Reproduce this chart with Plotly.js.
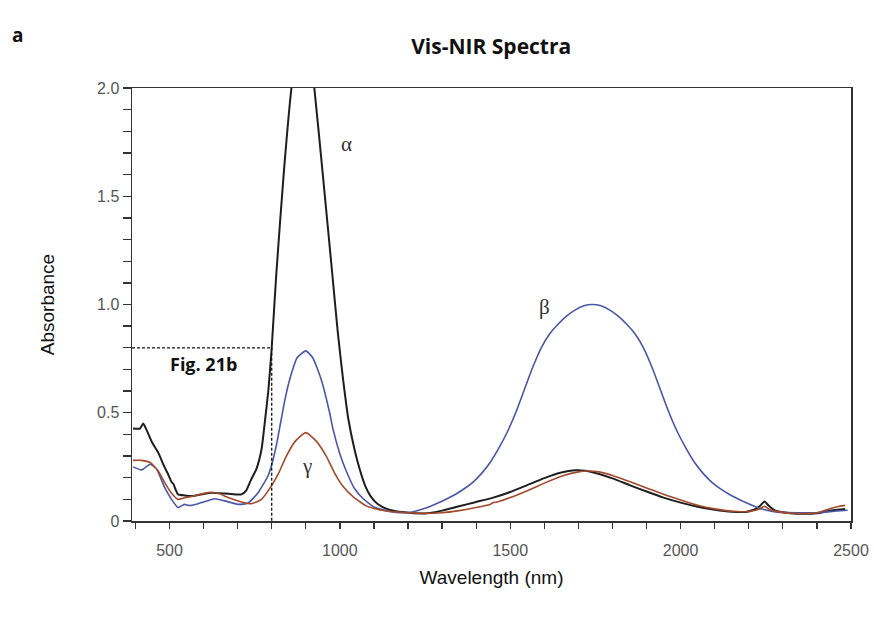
<!DOCTYPE html>
<html>
<head>
<meta charset="utf-8">
<script src="https://cdn.plot.ly/plotly-3.0.1.min.js"></script>
<style>html,body{margin:0;padding:0;background:#fff;}#chart{width:874px;height:619px;}</style>
</head>
<body>
<div id="chart"></div>
<script>
// Sample alpha (black)
const alphaWl = [393,413,423,433,450,467,485,496,506,512,518,525,545,565,600,623,662,690,711,725,740,755,770,780,790,800,813,835,858,875,892,910,925,950,979,994,1009,1025,1043,1058,1075,1090,1110,1140,1190,1250,1300,1350,1400,1450,1500,1550,1600,1650,1690,1720,1750,1800,1850,1900,1950,2000,2050,2100,2150,2190,2215,2232,2246,2258,2275,2300,2340,2400,2430,2460,2483];
const alphaAbs = [0.427,0.427,0.45,0.42,0.36,0.316,0.25,0.216,0.18,0.17,0.145,0.123,0.118,0.115,0.125,0.131,0.127,0.123,0.123,0.14,0.193,0.24,0.33,0.46,0.60,0.80,1.13,1.6,2.0,2.18,2.24,2.18,2.0,1.6,1.12,0.87,0.66,0.47,0.33,0.24,0.16,0.115,0.08,0.055,0.04,0.035,0.048,0.068,0.088,0.108,0.134,0.166,0.198,0.224,0.234,0.232,0.222,0.197,0.166,0.136,0.108,0.085,0.066,0.052,0.043,0.042,0.052,0.068,0.09,0.072,0.05,0.04,0.034,0.036,0.045,0.052,0.055];

// Sample beta (blue)
const betaWl = [393,418,443,462,486,506,525,535,545,555,565,594,633,662,701,730,760,789,800,815,828,840,853,875,900,920,945,970,979,1000,1019,1043,1067,1100,1136,1165,
  1191,1216,1241,1266,1291,1316,1341,1366,1391,1416,1441,1466,1491,1516,1541,1566,1591,1616,1641,1666,1691,1716,1741,
  1766,1791,1816,1841,1866,1891,1916,1941,1966,1991,2016,2041,2066,2091,2116,2141,2166,2191,2216,2241,2266,2291,2345,2400,2450,2490];
const betaAbs = [0.25,0.236,0.262,0.24,0.154,0.10,0.062,0.07,0.077,0.072,0.072,0.085,0.103,0.093,0.077,0.082,0.131,0.208,0.26,0.36,0.47,0.57,0.655,0.755,0.786,0.755,0.655,0.50,0.43,0.31,0.23,0.15,0.105,0.065,0.048,0.04,
  0.038,0.043,0.054,0.068,0.085,0.104,0.125,0.15,0.18,0.22,0.27,0.335,0.41,0.50,0.605,0.71,0.80,0.865,0.91,0.947,0.975,0.994,1.0,
  0.994,0.975,0.947,0.91,0.865,0.80,0.71,0.605,0.50,0.41,0.335,0.27,0.22,0.18,0.15,0.125,0.104,0.085,0.068,0.054,0.045,0.04,0.038,0.038,0.045,0.05];

// Sample gamma (brown)
const gammaWl = [393,418,443,467,486,506,525,545,565,613,643,672,711,740,770,799,820,843,870,900,930,960,985,1009,1040,1077,1100,1136,1200,1250,1300,1350,1400,1440,1450,1462,1500,1550,1600,1650,1700,1725,1760,1800,1850,1900,1950,2000,2050,2100,2150,2200,2230,2246,2262,2300,2340,2400,2440,2460,2483];
const gammaAbs = [0.28,0.28,0.27,0.231,0.177,0.128,0.10,0.108,0.113,0.131,0.128,0.108,0.088,0.080,0.10,0.162,0.22,0.30,0.37,0.408,0.37,0.30,0.22,0.16,0.11,0.07,0.058,0.046,0.038,0.035,0.038,0.048,0.062,0.076,0.085,0.088,0.108,0.14,0.175,0.207,0.227,0.231,0.227,0.21,0.182,0.153,0.123,0.097,0.073,0.056,0.045,0.044,0.054,0.068,0.052,0.04,0.034,0.038,0.058,0.066,0.072];

const xTickVals = [500,1000,1500,2000,2500];
const xTickText = ['500','1000','1500','2000','2500'];
const yTickVals = [0,0.5,1.0,1.5,2.0];
const yTickText = ['0','0.5','1.0','1.5','2.0'];

const seriesLabels = ['α','β','γ'];
const labelX = [1019,1600,903];
const labelY = [1.74,0.99,0.254];

const figX = 800, figY = 0.8;

const traces = [
  {x: alphaWl, y: alphaAbs, type:'scatter', mode:'lines', name:'α', line:{color:'#1e1e1e', width:2, shape:'spline', smoothing:0.5}},
  {x: betaWl, y: betaAbs, type:'scatter', mode:'lines', name:'β', line:{color:'#4a56a6', width:1.6, shape:'spline', smoothing:0.5}},
  {x: gammaWl, y: gammaAbs, type:'scatter', mode:'lines', name:'γ', line:{color:'#a24a2c', width:1.6, shape:'spline', smoothing:0.5}}
];

const annotations = seriesLabels.map((t,i)=>({
  x: labelX[i], y: labelY[i], xref:'x', yref:'y', text: t, showarrow:false,
  font:{family:'Liberation Serif, serif', size:21, color:'#333'}
}));
annotations.push({x:0.0, y:1.0, xref:'paper', yref:'paper', xanchor:'left', yanchor:'top', xshift:-122, yshift:68,
  text:'<b>a</b>', showarrow:false, font:{family:'Open Sans, sans-serif', size:19, color:'#111'}});
annotations.push({x:600, y:0.725, xref:'x', yref:'y', text:'<b>Fig. 21b</b>', showarrow:false,
  font:{family:'Open Sans, sans-serif', size:18, color:'#111'}});

const layout = {
  width: 874, height: 619,
  margin: {l:132, r:23, t:88, b:98},
  paper_bgcolor:'#fff', plot_bgcolor:'#fff',
  showlegend: false,
  title: {text:'<b>Vis-NIR Spectra</b>', x:0.562, xanchor:'center', y:0.925, yanchor:'middle',
    font:{family:'Open Sans, sans-serif', size:21, color:'#111'}},
  xaxis: {
    range:[390,2500], showline:true, mirror:true, linecolor:'#333', linewidth:1.5,
    showgrid:false, zeroline:false,
    tickmode:'array', tickvals:xTickVals, ticktext:xTickText,
    ticks:'outside', ticklen:6, tickwidth:1.3, tickcolor:'#333',
    ticklabelstandoff:8,
    minor:{dtick:100, tick0:0, ticks:'outside', ticklen:6, tickwidth:1.3, tickcolor:'#333', showgrid:false},
    tickfont:{family:'Liberation Sans, Arial, sans-serif', size:16, color:'#555'},
    title:{text:'Wavelength (nm)', standoff:13, font:{family:'Liberation Sans, Arial, sans-serif', size:19, color:'#111'}}
  },
  yaxis: {
    range:[0,2.0], showline:true, mirror:true, linecolor:'#333', linewidth:1.5,
    showgrid:false, zeroline:false,
    tickmode:'array', tickvals:yTickVals, ticktext:yTickText,
    ticks:'outside', ticklen:8, tickwidth:1.3, tickcolor:'#333',
    minor:{dtick:0.1, tick0:0, ticks:'outside', ticklen:8, tickwidth:1.3, tickcolor:'#333', showgrid:false},
    tickfont:{family:'Liberation Sans, Arial, sans-serif', size:16, color:'#555'},
    title:{text:'Absorbance', standoff:37, font:{family:'Liberation Sans, Arial, sans-serif', size:19, color:'#111'}}
  },
  shapes: [
    {type:'line', xref:'x', yref:'y', x0:390, x1:figX, y0:figY, y1:figY, line:{color:'#111', width:1.3, dash:'3px,2px'}},
    {type:'line', xref:'x', yref:'y', x0:figX, x1:figX, y0:figY, y1:0, line:{color:'#111', width:1.3, dash:'3px,2px'}}
  ],
  annotations: annotations
};

Plotly.newPlot('chart', traces, layout, {displayModeBar:false, staticPlot:true});
</script>
</body>
</html>
